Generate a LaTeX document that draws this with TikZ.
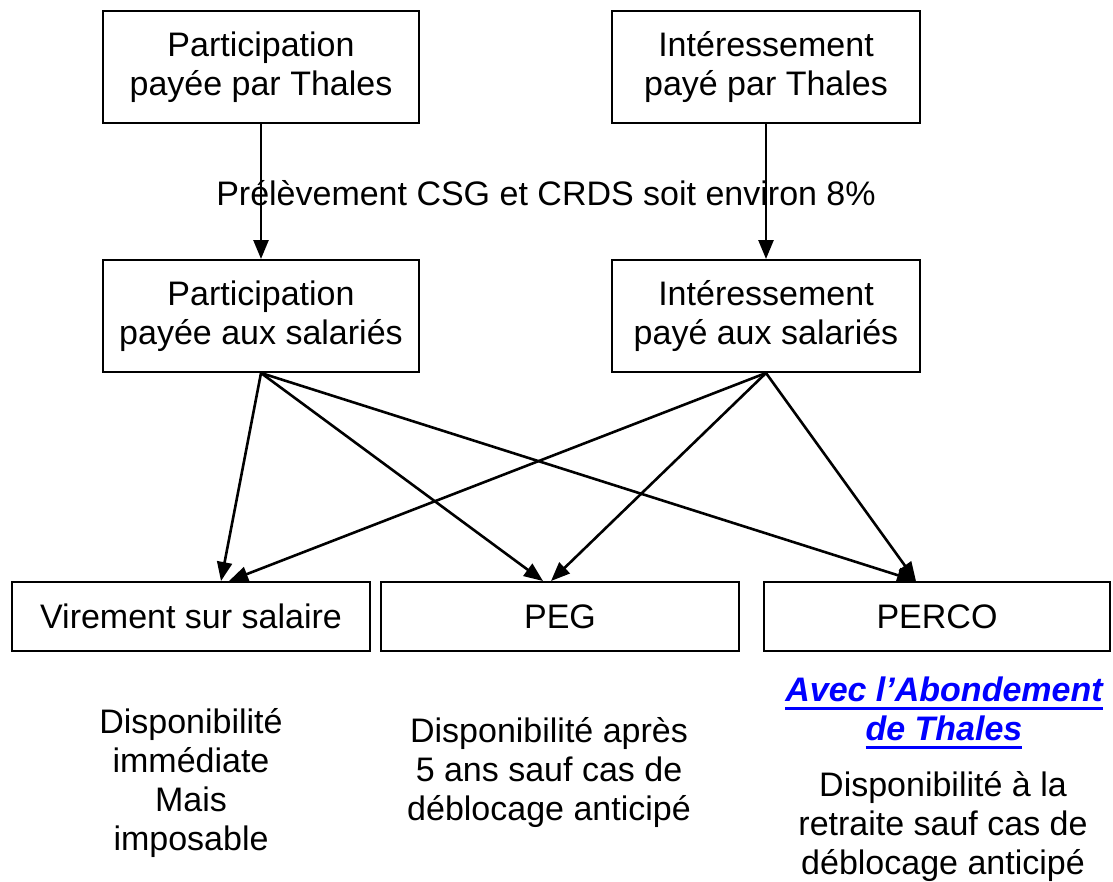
\documentclass[tikz,border=0pt]{standalone}
\usepackage{fontspec}
\setmainfont{Liberation Sans}
\usetikzlibrary{arrows.meta,calc}
\definecolor{linkblue}{RGB}{0,0,255}
\newsavebox\myulbox
\newcommand\myul[1]{\sbox\myulbox{#1}\rlap{\rule[-9pt]{\wd\myulbox}{3pt}}\usebox\myulbox}
\begin{document}
\begin{tikzpicture}[x=1pt,y=-1pt,
  every node/.style={font=\fontsize{34}{39}\selectfont, align=center, inner sep=0pt},
  box/.style={draw, line width=2pt},
  bigbox/.style={box, minimum height=112pt},
  lowbox/.style={box, minimum height=69pt},
  flow/.style={line width=2.6pt, -{Triangle[length=19pt,width=15pt]}}]
\useasboundingbox (0,0) rectangle (1113,881);
\node[bigbox, minimum width=316pt] (tl) at (261,67) {Participation\\payée par Thales};
\node[bigbox, minimum width=308pt] (tr) at (766,67) {Intéressement\\payé par Thales};
\node[bigbox, minimum width=316pt] (ml) at (261,316) {Participation\\payée aux salariés};
\node[bigbox, minimum width=308pt] (mr) at (766,316) {Intéressement\\payé aux salariés};
\node[lowbox, minimum width=358pt] (vir) at (191,616.5) {Virement sur salaire};
\node[lowbox, minimum width=358pt] (peg) at (560,616.5) {PEG};
\node[lowbox, minimum width=346pt] (perco) at (937,616.5) {PERCO};

\draw[flow] (tl) -- (ml);
\draw[flow] (tr) -- (mr);
\node[anchor=base] (prel) at (546,205) {Prélèvement CSG et CRDS soit environ 8\%};

\coordinate (vira) at ($(vir.north)+(30,0)$);
\coordinate (virb) at ($(vir.north)+(38,0)$);
\coordinate (pega) at ($(peg.north)+(-17,0)$);
\coordinate (pegb) at ($(peg.north)+(-9,0)$);
\coordinate (percoa) at ($(perco.north)+(-21,0)$);

\draw[flow] (ml.south) -- (vira);
\draw[flow] (ml.south) -- (pega);
\draw[flow] (ml.south) -- (percoa);
\draw[flow] (mr.south) -- (virb);
\draw[flow] (mr.south) -- (pegb);
\draw[flow] (mr.south) -- (percoa);

\node (t1) at (191,783) {Disponibilité\\immédiate\\Mais\\imposable};
\node (t2) at (549,772) {Disponibilité après\\5 ans sauf cas de\\déblocage anticipé};
\node[text=linkblue, font=\fontsize{34}{39}\selectfont\bfseries\itshape] (link) at (944,713) {\myul{Avec l’Abondement}\\\myul{de Thales}};
\node (t3) at (943,826) {Disponibilité à la\\retraite sauf cas de\\déblocage anticipé};
\end{tikzpicture}
\end{document}
